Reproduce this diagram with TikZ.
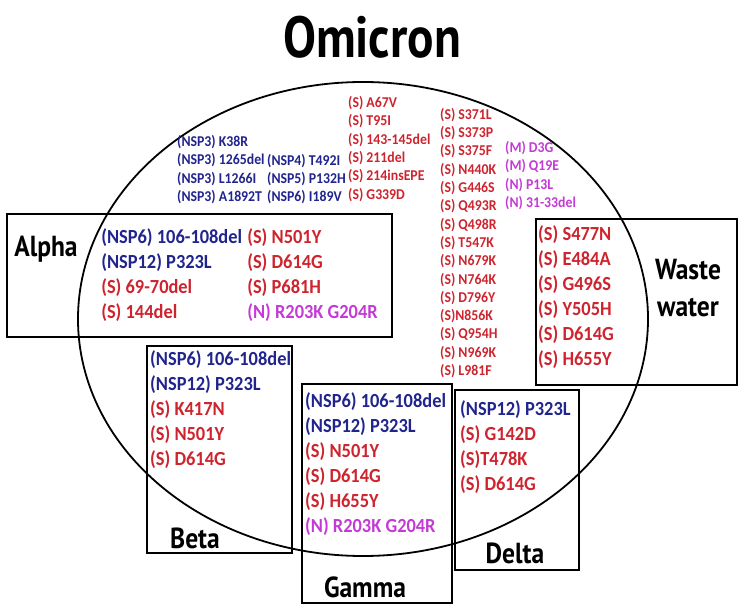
\documentclass[tikz,border=0pt]{standalone}
\usepackage{fontspec}
\setmainfont{Carlito}[FakeStretch=0.92]
\newfontfamily\titlefont{PT Sans}[FakeStretch=0.85]
\newfontfamily\varfont{PT Sans}[FakeStretch=0.88]
\usetikzlibrary{shapes.geometric, positioning}

\definecolor{navyc}{RGB}{32,36,140}
\definecolor{redc}{RGB}{205,36,46}
\definecolor{magc}{RGB}{196,58,214}
\newcommand{\nv}[1]{\textcolor{navyc}{#1}}
\newcommand{\mg}[1]{\textcolor{magc}{#1}}

\begin{document}
\begin{tikzpicture}[
		x=1pt, y=-1pt,
		% --- STYLES ---
		varbox/.style = {draw, rectangle, line width=1.8pt, inner sep=0pt},
		smallmut/.style = {anchor=west, inner sep=0pt, align=left, text=redc, font=\bfseries\fontsize{15}{18.3}\selectfont},
		bigmut/.style = {anchor=west, inner sep=0pt, align=left, text=redc, font=\bfseries\fontsize{20}{25}\selectfont},
		varname/.style = {inner sep=0pt, align=center, font=\varfont\bfseries\fontsize{29}{37}\selectfont}
		]
		\useasboundingbox (0,0) rectangle (744,609);
		
		% --- TITLE AND OMICRON ELLIPSE ---
		\node [anchor=base, inner sep=0pt, font=\titlefont\bfseries\fontsize{58}{60}\selectfont] (title) at (372,58) {Omicron};
		\node [draw, ellipse, line width=1.8pt, inner sep=0pt, minimum width=570pt, minimum height=474pt] (omi) at (363,319) {};
		
		% Mutations only found in Omicron
		\node [smallmut, text=navyc] (nsp3) at (177,169.5) {(NSP3) K38R\\(NSP3) 1265del\\(NSP3) L1266I\\(NSP3) A1892T};
		\node [smallmut, text=navyc] (nsp46) at (267,179) {(NSP4) T492I\\(NSP5) P132H\\(NSP6) I189V};
		\node [smallmut] (spikeA) at (348,149) {(S) A67V\\(S) T95I\\(S) 143-145del\\(S) 211del\\(S) 214insEPE\\(S) G339D};
		\node [smallmut] (spikeB) at (440,243) {(S) S371L\\(S) S373P\\(S) S375F\\(S) N440K\\(S) G446S\\(S) Q493R\\(S) Q498R\\(S) T547K\\(S) N679K\\(S) N764K\\(S) D796Y\\(S)N856K\\(S) Q954H\\(S) N969K\\(S) L981F};
		\node [smallmut, text=magc] (mn) at (505,175.5) {(M) D3G\\(M) Q19E\\(N) P13L\\(N) 31-33del};
		
		% --- VARIANT BOXES ---
		\node [varbox, minimum width=385pt, minimum height=123pt] (alpha) at (199.5,275.5) {};
		\node [varbox, minimum width=145pt, minimum height=207pt] (beta) at (219.5,449.5) {};
		\node [varbox, minimum width=150pt, minimum height=219pt] (gamma) at (377,493.5) {};
		\node [varbox, minimum width=124pt, minimum height=180pt] (delta) at (517,480) {};
		\node [varbox, minimum width=201pt, minimum height=166pt] (waste) at (636.5,302) {};
		
		% Alpha
		\node [varname, anchor=base] (alphaname) at (46,257) {Alpha};
		\node [bigmut, right=95pt of alpha.west] (alphaA) {\nv{(NSP6) 106-108del}\\\nv{(NSP12) P323L}\\(S) 69-70del\\(S) 144del};
		\node [bigmut, right=241pt of alpha.west] (alphaB) {(S) N501Y\\(S) D614G\\(S) P681H\\\mg{(N) R203K G204R}};
		
		% Beta
		\node [bigmut] (betamut) at (150,409.5) {\nv{(NSP6) 106-108del}\\\nv{(NSP12) P323L}\\(S) K417N\\(S) N501Y\\(S) D614G};
		\node [varname, anchor=base] (betaname) at (195,548) {Beta};
		
		% Gamma
		\node [bigmut] (gammamut) at (305,464.5) {\nv{(NSP6) 106-108del}\\\nv{(NSP12) P323L}\\(S) N501Y\\(S) D614G\\(S) H655Y\\\mg{(N) R203K G204R}};
		\node [varname, anchor=base] (gammaname) at (365,597) {Gamma};
		
		% Delta
		\node [bigmut] (deltamut) at (460,447.5) {\nv{(NSP12) P323L}\\(S) G142D\\(S)T478K\\(S) D614G};
		\node [varname, anchor=base] (deltaname) at (515,563) {Delta};
		
		% Waste water
		\node [bigmut] (wastemut) at (538,297.5) {(S) S477N\\(S) E484A\\(S) G496S\\(S) Y505H\\(S) D614G\\(S) H655Y};
		\node [varname] (wastename) at (688,288.5) {Waste\\water};
		
	\end{tikzpicture}
\end{document}
